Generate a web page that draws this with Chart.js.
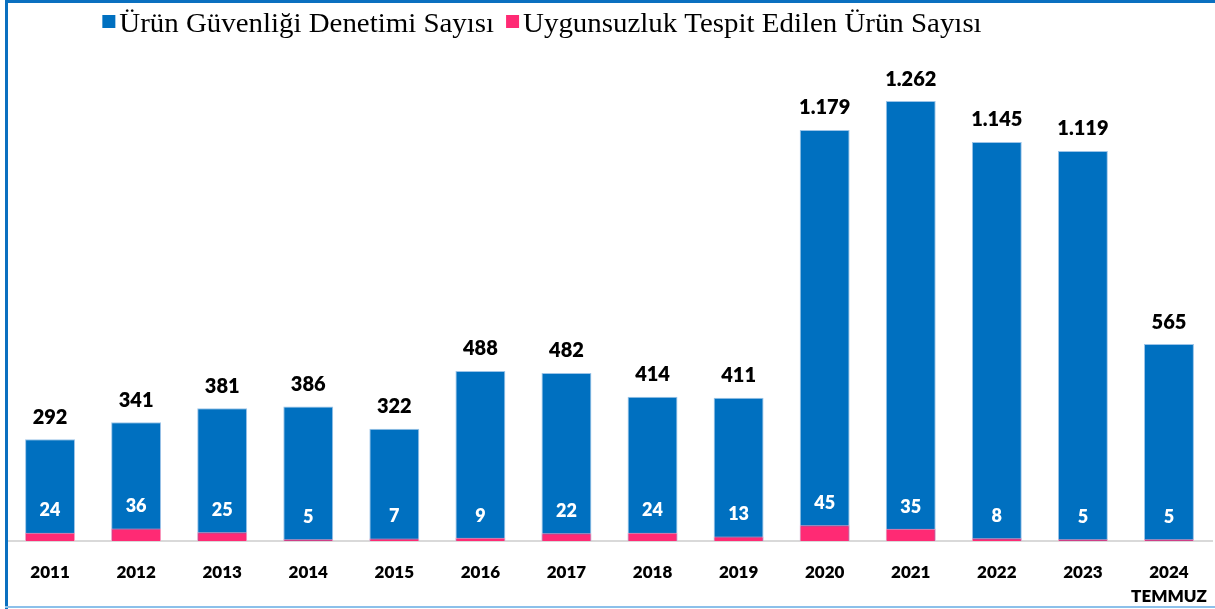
<!DOCTYPE html>
<html>
<head>
<meta charset="utf-8">
<script src="https://cdn.jsdelivr.net/npm/chart.js@4.4.0/dist/chart.umd.min.js"></script>
<style>
  html, body { margin: 0; padding: 0; background: #fff; }
  #wrap { position: relative; width: 1215px; height: 609px; overflow: hidden; }
  #wrap canvas { position: absolute; left: 0; top: 0; }
  .frame { position: absolute; pointer-events: none; }
  #fTop { left: 5px; top: 0; width: 1210px; height: 3px; background: #0a70c0; }
  #fLeft { left: 5px; top: 0; width: 3px; height: 609px; background: #0a70c0; }
  #fBottom { left: 5px; top: 606px; width: 1210px; height: 2px; background: #8cc0ea; }
</style>
</head>
<body>
<div id="wrap">
  <canvas id="chart" width="1215" height="609"></canvas>
  <div class="frame" id="fTop"></div>
  <div class="frame" id="fLeft"></div>
  <div class="frame" id="fBottom"></div>
</div>
<script>
const years = ["2011", "2012", "2013", "2014", "2015", "2016", "2017", "2018", "2019", "2020", "2021", "2022", "2023", ["2024", "TEMMUZ"]];
const inspections = [292, 341, 381, 386, 322, 488, 482, 414, 411, 1179, 1262, 1145, 1119, 565];
const nonCompliant = [24, 36, 25, 5, 7, 9, 22, 24, 13, 45, 35, 8, 5, 5];
const seriesNames = ["Ürün Güvenliği Denetimi Sayısı", "Uygunsuzluk Tespit Edilen Ürün Sayısı"];

const BLUE = "#0070c0";
const PINK = "#ff2a74";

// 1179 -> "1.179"
const fmt = (v) => String(v).replace(/\B(?=(\d{3})+(?!\d))/g, ".");

const barLabels = {
  id: "barLabels",
  afterDatasetsDraw(chart) {
    const ctx = chart.ctx;
    const blue = chart.getDatasetMeta(0).data;
    const pink = chart.getDatasetMeta(1).data;
    ctx.save();
    ctx.textAlign = "center";
    ctx.textBaseline = "middle";
    ctx.font = "800 20px Lato";
    ctx.fillStyle = "#000";
    blue.forEach((bar, i) => {
      ctx.fillText(fmt(inspections[i]), bar.x, bar.y - 22);
    });
    ctx.font = "800 18px Lato";
    ctx.fillStyle = "#fff";
    pink.forEach((bar, i) => {
      ctx.fillText(fmt(nonCompliant[i]), bar.x, bar.y - 22);
    });
    ctx.restore();
  },
};

// legend drawn by hand, it sits a bit left of center in the original
// and the serif text is a little stretched sideways
const topLegend = {
  id: "topLegend",
  afterDraw(chart) {
    const ctx = chart.ctx;
    const sx = 1.07;
    ctx.save();
    ctx.font = "27px 'Liberation Serif'";
    ctx.textBaseline = "alphabetic";
    const box = 13, gapBox = 4, gapItem = 12;
    const w0 = ctx.measureText(seriesNames[0]).width * sx;
    const w1 = ctx.measureText(seriesNames[1]).width * sx;
    const total = box + gapBox + w0 + gapItem + box + gapBox + w1;
    let x = 542 - total / 2;
    const colors = [BLUE, PINK];
    [w0, w1].forEach((w, i) => {
      ctx.fillStyle = colors[i];
      ctx.fillRect(x, 15, box, box);
      x += box + gapBox;
      ctx.fillStyle = "#000";
      ctx.save();
      ctx.translate(x, 32);
      ctx.scale(sx, 1);
      ctx.fillText(seriesNames[i], 0, 0);
      ctx.restore();
      x += w + gapItem;
    });
    ctx.restore();
  },
};

new Chart(document.getElementById("chart"), {
  type: "bar",
  data: {
    labels: years,
    datasets: [
      {
        label: seriesNames[0],
        data: inspections,
        backgroundColor: BLUE,
        borderColor: "#9cc4e8",
        borderWidth: 1,
        grouped: false,
        order: 1,
      },
      {
        label: seriesNames[1],
        data: nonCompliant,
        backgroundColor: PINK,
        borderColor: "#ff9cbc",
        borderWidth: 1,
        grouped: false,
        order: 0,
      },
    ],
  },
  options: {
    responsive: false,
    animation: false,
    layout: { padding: { left: 7, right: 3, top: 53, bottom: 0 } },
    datasets: { bar: { categoryPercentage: 1, barPercentage: 0.58 } },
    plugins: { legend: { display: false }, tooltip: { enabled: false } },
    scales: {
      x: {
        grid: { display: false, drawTicks: false },
        border: { display: true, color: "#d9d9d9", width: 2 },
        ticks: {
          color: "#000",
          padding: 19,
          maxRotation: 0,
          font: { family: "Lato", size: 17, weight: "800", lineHeight: 1.45 },
        },
        afterFit(scale) {
          // keep the axis short and let the plot run edge to edge
          scale.height = 68;
          scale.paddingLeft = 0;
          scale.paddingRight = 0;
        },
      },
      y: { display: false, min: 0, max: 1400 },
    },
  },
  plugins: [barLabels, topLegend],
});
</script>
</body>
</html>
